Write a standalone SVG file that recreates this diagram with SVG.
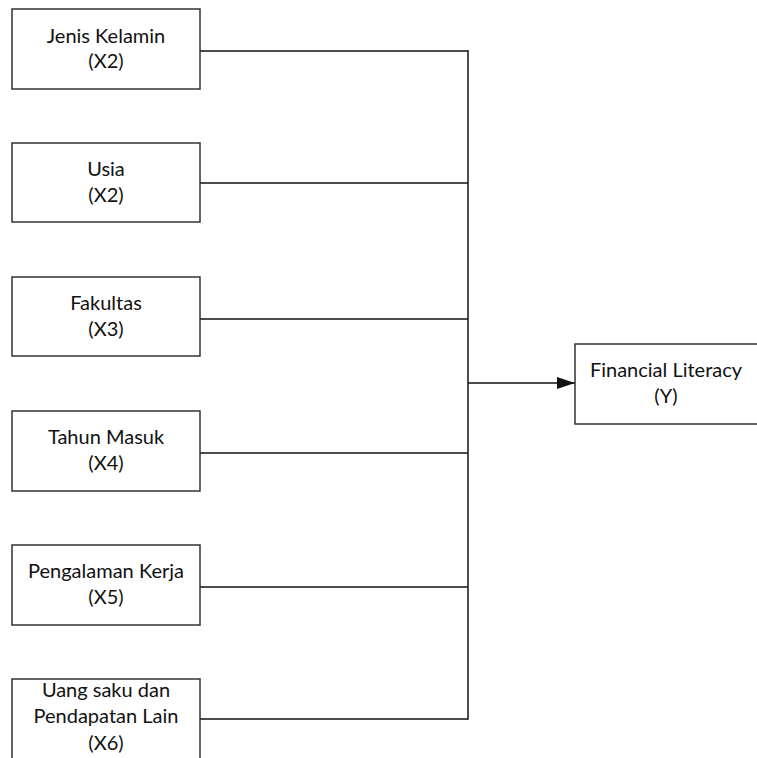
<svg xmlns="http://www.w3.org/2000/svg" width="757" height="758" viewBox="0 0 757 758">
<style>
.box{fill:#fff;stroke:#333;stroke-width:1.5}
.t{font-family:Lato,"Open Sans","Liberation Sans",sans-serif;font-size:20px;fill:#111;text-anchor:middle}
.c{fill:none;stroke:#111;stroke-width:1.5}
</style>
<defs>
<marker id="arr" markerWidth="18" markerHeight="12" refX="18" refY="6" orient="auto" markerUnits="userSpaceOnUse">
<path d="M0,0 L18,6 L0,12 Z" fill="#111"/>
</marker>
</defs>
<rect width="757" height="758" fill="#fff"/>
<g id="connectors">
<line class="c" x1="200" y1="51" x2="468" y2="51"/>
<line class="c" x1="200" y1="183" x2="468" y2="183"/>
<line class="c" x1="200" y1="319" x2="468" y2="319"/>
<line class="c" x1="200" y1="453" x2="468" y2="453"/>
<line class="c" x1="200" y1="587" x2="468" y2="587"/>
<line class="c" x1="200" y1="719" x2="468" y2="719"/>
<line class="c" x1="468" y1="50.25" x2="468" y2="719.75"/>
<line class="c" x1="468" y1="383" x2="575" y2="383" marker-end="url(#arr)"/>
</g>
<g id="n1"><rect class="box" x="12" y="9" width="188" height="80"/><text class="t" x="106" y="43">Jenis Kelamin</text><text class="t" x="106" y="68">(X2)</text></g>
<g id="n2"><rect class="box" x="12" y="143" width="188" height="79"/><text class="t" x="106" y="176">Usia</text><text class="t" x="106" y="202">(X2)</text></g>
<g id="n3"><rect class="box" x="12" y="277" width="188" height="79"/><text class="t" x="106" y="310">Fakultas</text><text class="t" x="106" y="336">(X3)</text></g>
<g id="n4"><rect class="box" x="12" y="411" width="188" height="80"/><text class="t" x="106" y="444">Tahun Masuk</text><text class="t" x="106" y="470">(X4)</text></g>
<g id="n5"><rect class="box" x="12" y="545" width="188" height="80"/><text class="t" x="106" y="578">Pengalaman Kerja</text><text class="t" x="106" y="604">(X5)</text></g>
<g id="n6"><rect class="box" x="12" y="679" width="188" height="90"/><text class="t" x="106" y="697">Uang saku dan</text><text class="t" x="106" y="723">Pendapatan Lain</text><text class="t" x="106" y="750">(X6)</text></g>
<g id="y"><rect class="box" x="575" y="344" width="190" height="80"/><text class="t" x="666" y="377">Financial Literacy</text><text class="t" x="666" y="403">(Y)</text></g>
</svg>
